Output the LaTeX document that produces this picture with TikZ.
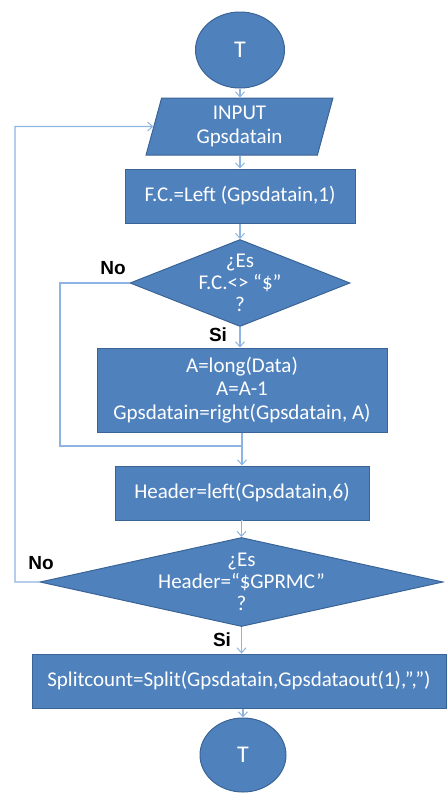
\documentclass[tikz,border=0pt]{standalone}
\usepackage{fontspec}
\setmainfont{Carlito}
\newfontfamily\labelfont{Liberation Sans}
\usetikzlibrary{shapes.geometric,arrows.meta}
\definecolor{boxfill}{HTML}{4F81BD}
\definecolor{boxline}{HTML}{3A6496}
\definecolor{flow}{HTML}{8DB4E2}
\tikzset{
  blockbase/.style={fill=boxfill, draw=boxline, line width=1pt, text=white,
    font=\fontsize{21}{23.5}\selectfont, align=center, inner sep=0pt},
  terminal/.style={blockbase, ellipse, font=\fontsize{24}{26}\selectfont},
  iobox/.style={blockbase, trapezium, trapezium left angle=78, trapezium right angle=102,
    trapezium stretches=true},
  procbox/.style={blockbase, rectangle},
  decision/.style={blockbase, diamond},
  dtext/.style={text=white, font=\fontsize{21}{22}\selectfont, align=center, inner sep=0pt},
  flowline/.style={draw=flow, line width=1.3pt},
  flowarrow/.style={flowline, -{Straight Barb[length=5pt,width=9pt,line width=1pt]}},
  branch/.style={font=\labelfont\bfseries\fontsize{19}{21}\selectfont, text=black, inner sep=0pt}
}
\begin{document}
\begin{tikzpicture}[x=1pt,y=-1pt]
\useasboundingbox (0,0) rectangle (447,793);

% blocks
\node[terminal, minimum width=89pt, minimum height=76pt] (t1) at (240,50) {T};
\node[iobox, minimum width=187pt, minimum height=57pt] (input) at (239.5,126.5) {INPUT\\Gpsdatain};
\node[procbox, minimum width=230pt, minimum height=54pt] (fc) at (240,196) {F.C.=Left (Gpsdatain,1)};
\node[decision, minimum width=220pt, minimum height=87pt] (d1) at (240,283) {};
\node[dtext] (d1t) at (d1) {¿Es\\F.C.<> “\$”\\?};
\node[procbox, minimum width=290pt, minimum height=84pt] (a) at (242,390) {A=long(Data)\\A=A-1\\Gpsdatain=right(Gpsdatain, A)};
\node[procbox, minimum width=254pt, minimum height=54pt] (head) at (242,493) {Header=left(Gpsdatain,6)};
\node[decision, minimum width=403pt, minimum height=89pt] (d2) at (241.5,582) {};
\node[dtext] (d2t) at (d2) {¿Es\\Header=“\$GPRMC”\\?};
\node[procbox, minimum width=414pt, minimum height=54pt] (split) at (239,681) {Splitcount=Split(Gpsdatain,Gpsdataout(1),”,”)};
\node[terminal, minimum width=86pt, minimum height=74pt] (t2) at (243,755) {T};

% branch labels
\node[branch] (no1) at (113,268) {No};
\node[branch] (si1) at (218,335) {Si};
\node[branch] (no2) at (41,563) {No};
\node[branch] (si2) at (222,640) {Si};

% loop corners
\coordinate (j1) at (242,446);
\coordinate (k1) at (60,446);
\coordinate (k2) at (15,126.5);

% main flow
\draw[flowarrow] (t1.south) -- (t1.south |- input.north);
\draw[flowarrow] (input.south -| fc.north) -- (fc.north);
\draw[flowarrow] (fc.south) -- (d1.north);
\draw[flowarrow] (d1.south) -- (d1.south |- a.north);
\draw[flowarrow] (a.south) -- (head.north);
\draw[flowarrow] (head.south) -- (head.south -| d2.north) -- (d2.north);
\draw[flowarrow] (d2.south) -- (d2.south |- split.north);
\draw[flowarrow] (split.south -| t2.north) -- (t2.north);

% "No" branches
\draw[flowline] (d1.west) -| (k1) -- (j1);
\draw[flowarrow] (d2.west) -| (k2) -- (input.west);
\end{tikzpicture}
\end{document}
